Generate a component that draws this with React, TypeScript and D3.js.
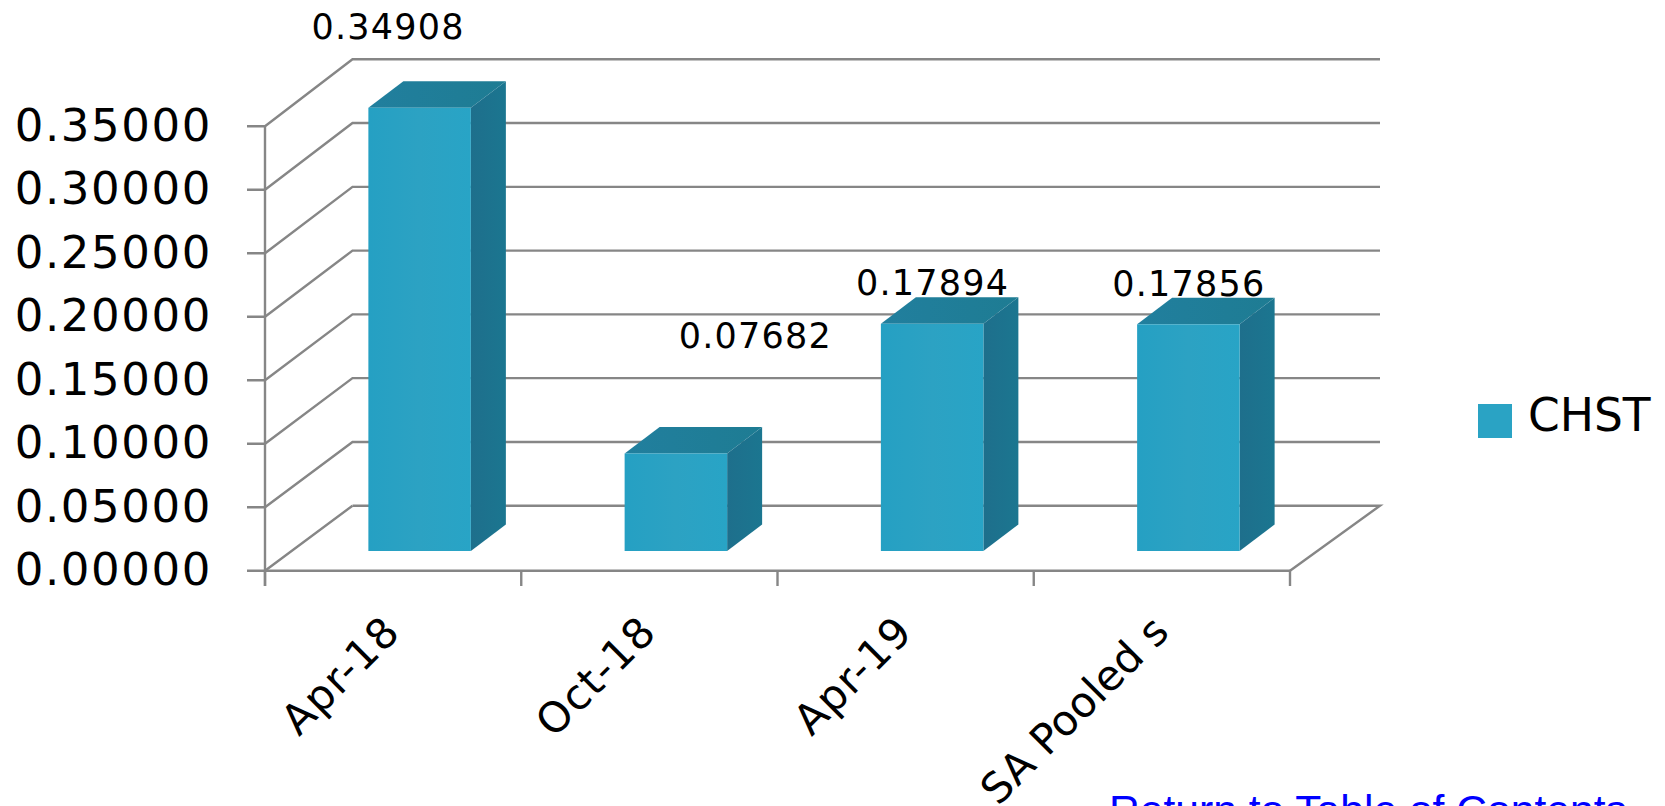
import React from "react";
import * as d3 from "d3";

const categories = ["Apr-18", "Oct-18", "Apr-19", "SA Pooled s"];
const chstValues = [0.34908, 0.07682, 0.17894, 0.17856];
const valueLabels = ["0.34908", "0.07682", "0.17894", "0.17856"];
const yTicks = [0, 0.05, 0.1, 0.15, 0.2, 0.25, 0.3, 0.35];
const seriesName = "CHST";
const linkText = "Return to Table of Contents";

const W = 1665, H = 806;
const x0 = 265, x1 = 1290, y0 = 570.7, yTop = 126.3;
const wallDx = 87.5, backRight = 1380;
const barDx = 35, barDy = 26.5;
const baseDx = 26.5, baseDy = 19.7;
const grid = "#868686";
const font = "'DejaVu Sans', sans-serif";

const y = d3.scaleLinear().domain([0, 0.35]).range([y0, yTop]);
const yBack = d3.scaleLinear().domain([0, 0.35]).range([505.7, 59.3]);
const x = d3.scaleBand<string>().domain(categories).range([x0, x1]).paddingInner(0).paddingOuter(0);
const bw = x.bandwidth() * 0.4;

const valueDx = [-5, 106, 27, 27];
const valueBaseline = [39, 348, 295, 296];
const labelSpacing = [1.2, 1.2, 1.2, 0];

const poly = (pts: [number, number][]) => d3.line()(pts)! + "Z";

export default function App() {
  return (
    <svg width={W} height={H} viewBox={`0 0 ${W} ${H}`} style={{ position: "absolute", left: 0, top: 0, background: "#fff", fontFamily: font }}>
      <defs>
        <linearGradient id="front" x1="0" x2="1" y1="0" y2="0">
          <stop offset="0" stopColor="#25A0C3" />
          <stop offset="0.5" stopColor="#2CA2C3" />
          <stop offset="1" stopColor="#28A4C6" />
        </linearGradient>
        <linearGradient id="side" x1="0" x2="1" y1="0" y2="0">
          <stop offset="0" stopColor="#1E6F8C" />
          <stop offset="1" stopColor="#1B7690" />
        </linearGradient>
        <linearGradient id="top" x1="0" x2="1" y1="0" y2="0">
          <stop offset="0" stopColor="#217F9E" />
          <stop offset="1" stopColor="#1E7C93" />
        </linearGradient>
      </defs>
      <g stroke={grid} strokeWidth={2.4} fill="none">
        {yTicks.map((t) => (
          <path key={t} d={d3.line()([[247, y(t)], [x0, y(t)], [x0 + wallDx, yBack(t)], ...(t === 0 ? [] : [[backRight, yBack(t)] as [number, number]])])!} />
        ))}
        <path d={d3.line()([[x1, y0], [backRight, yBack(0)], [x0 + wallDx, yBack(0)]])!} />
        <line x1={x0} x2={x0} y1={yTop} y2={586} />
        <line x1={x0} x2={x1} y1={y0} y2={y0} />
        {[...categories.map((c) => x(c)!), x1].map((v) => (
          <line key={v} x1={v} x2={v} y1={y0} y2={586} />
        ))}
      </g>
      {categories.map((c, i) => {
        const l = x(c)! + (x.bandwidth() - bw) / 2 + baseDx;
        const r = l + bw;
        const b = y(0) - baseDy;
        const t = y(chstValues[i]) - baseDy;
        return (
          <g key={c}>
            <path d={poly([[l, t], [l + barDx, t - barDy], [r + barDx, t - barDy], [r, t]])} fill="url(#top)" />
            <path d={poly([[r, t], [r + barDx, t - barDy], [r + barDx, b - barDy], [r, b]])} fill="url(#side)" />
            <rect x={l} y={t} width={bw} height={b - t} fill="url(#front)" />
          </g>
        );
      })}
      {yTicks.map((t) => (
        <text key={t} x={212} y={y(t) - 1} textAnchor="end" dominantBaseline="central" fontSize={45} letterSpacing={1.6} fill="#000">
          {t.toFixed(5)}
        </text>
      ))}
      {categories.map((c, i) => {
        const lx = x(c)! + x.bandwidth() / 2 - 13;
        return (
          <text key={c} transform={`translate(${lx},612) rotate(-45)`} textAnchor="end" dominantBaseline="hanging" fontSize={42} letterSpacing={labelSpacing[i]} fill="#000">
            {c}
          </text>
        );
      })}
      {categories.map((c, i) => {
        const cx = x(c)! + x.bandwidth() / 2 + valueDx[i];
        return (
          <text key={c + "v"} x={cx} y={valueBaseline[i]} textAnchor="middle" fontSize={35} letterSpacing={1.2} fill="#000">
            {valueLabels[i]}
          </text>
        );
      })}
      <rect x={1478} y={404} width={34} height={34} fill="#2AA3C4" />
      <text x={1528} y={431} fontSize={45.5} fill="#000">{seriesName}</text>
      <text x={1109} y={825} fontSize={42.6} fontFamily="'Liberation Sans', sans-serif" fill="#0000FF">{linkText}</text>
    </svg>
  );
}
